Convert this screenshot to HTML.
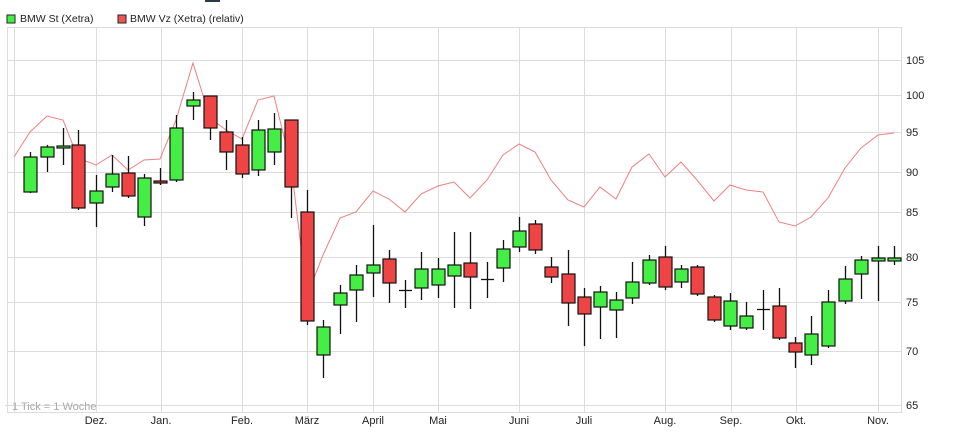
<!DOCTYPE html>
<html><head><meta charset="utf-8"><style>
html,body{margin:0;padding:0;background:#fff;width:971px;height:435px;overflow:hidden}
text{font-family:"Liberation Sans",sans-serif}
</style></head><body>
<svg id="s" width="971" height="435" xmlns="http://www.w3.org/2000/svg">
<rect x="205" y="0" width="15" height="2" fill="#2a3a4a"/>
<rect x="7" y="15" width="8" height="8" fill="#44ee44" stroke="#222" stroke-width="1"/>
<text x="20" y="22" font-size="10.5" fill="#222">BMW St (Xetra)</text>
<rect x="118" y="15" width="8" height="8" fill="#ee5555" stroke="#222" stroke-width="1"/>
<text x="130" y="22" font-size="10.5" fill="#222">BMW Vz (Xetra) (relativ)</text>
<g id="grid" stroke="#dcdcdc" stroke-width="1" fill="none"></g>
<g id="lbl" font-size="11" fill="#222"></g>
<text x="12" y="410" font-size="11" fill="#aaa">1 Tick = 1 Woche</text>
<polyline id="line" fill="none" stroke="#ee8080" stroke-width="1"/>
<g id="c"></g>
</svg>
<script>
const ns="http://www.w3.org/2000/svg";
function el(p,t,a){const e=document.createElementNS(ns,t);for(const k in a)e.setAttribute(k,a[k]);p.appendChild(e);return e;}
const g=document.getElementById('grid'),l=document.getElementById('lbl');
el(g,'rect',{x:7.5,y:27.5,width:894,height:385});
el(g,'line',{x1:5,y1:405.5,x2:902,y2:405.5});
[[105,60],[100,95],[95,132],[90,172],[85,212],[80,257],[75,302],[70,351]].forEach(([v,y])=>{el(g,'line',{x1:7,y1:y+.5,x2:902,y2:y+.5});const t=el(l,'text',{x:906,y:y+4});t.textContent=v;});
{const t=el(l,'text',{x:906,y:409});t.textContent=65;}
[[14,''],[96,'Dez.'],[161,'Jan.'],[242,'Feb.'],[307,'März'],[373,'April'],[438,'Mai'],[519,'Juni'],[584,'Juli'],[665,'Aug.'],[731,'Sep.'],[796,'Okt.'],[878,'Nov.']].forEach(([x,s])=>{el(g,'line',{x1:x+.5,y1:27,x2:x+.5,y2:412});if(s){const t=el(l,'text',{x:x,y:424,'text-anchor':'middle'});t.textContent=s;}});
const pts=[[14,157],[30,132],[47,116],[63,120],[78,158],[96,165],[112,155],[128,170],[144,160],[160,159],[176,120],[193,63],[210,118],[226,130],[242,139],[258,100],[274,96],[291,165],[307,296],[323,255],[340,218],[356,212],[373,191],[389,199],[405,212],[421,194],[438,186],[454,182],[470,198],[487,180],[503,155],[519,144],[535,152],[551,180],[568,200],[584,207],[600,187],[616,199],[632,167],[649,154],[665,177],[681,162],[697,180],[714,201],[730,185],[746,190],[763,192],[779,222],[795,226],[811,217],[828,198],[845,168],[861,148],[878,135],[894,133]];
document.getElementById('line').setAttribute('points',pts.map(p=>p.join(',')).join(' '));
const C=[[30,'g',157,192,152,193],[47,'g',147,157,145,172],[63,'g',146,148,128,165],[78,'r',145,208,130,210],[96,'g',191,203,175,227],[112,'g',174,187,155,192],[128,'r',173,196,156,198],[144,'g',178,217,174,226],[160,'r',181,183,168,185],[176,'g',128,180,115,182],[193,'g',100,106,92,120],[210,'r',96,128,96,140],[226,'r',132,152,120,170],[242,'r',145,174,137,178],[258,'g',130,170,120,176],[274,'g',129,152,113,165],[291,'r',120,187,120,218],[307,'r',212,321,190,325],[323,'g',327,355,320,378],[340,'g',293,305,285,334],[356,'g',275,290,265,322],[373,'g',265,273,225,297],[389,'r',259,283,250,303],[405,'d',290,290,280,308],[421,'g',269,288,252,300],[438,'g',269,285,258,298],[454,'g',265,276,232,308],[470,'r',263,277,232,309],[487,'d',279,279,262,298],[503,'g',249,268,240,282],[519,'g',231,247,217,252],[535,'r',224,250,220,254],[551,'r',267,277,257,283],[568,'r',274,303,250,326],[584,'r',297,314,288,346],[600,'g',292,307,286,339],[616,'g',300,310,292,338],[632,'g',282,298,262,304],[649,'g',260,283,255,285],[665,'r',257,287,246,290],[681,'g',269,282,265,288],[697,'r',267,294,265,296],[714,'r',297,320,295,322],[730,'g',301,326,293,330],[746,'g',316,328,302,330],[763,'d',309,309,290,330],[779,'r',306,338,288,340],[795,'r',343,352,337,368],[811,'g',334,355,316,365],[828,'g',302,346,290,348],[845,'g',279,301,266,304],[861,'g',260,274,256,299],[878,'g',258,261,246,301],[894,'g',258,261,246,265]];
const c=document.getElementById('c');
C.forEach(([x,t,a,b,h,lo])=>{el(c,'line',{x1:x+.5,y1:h,x2:x+.5,y2:lo,stroke:'#111','stroke-width':1.3});
if(t==='d'){el(c,'line',{x1:x-6,y1:a+.5,x2:x+7,y2:a+.5,stroke:'#111','stroke-width':1.3});}
else el(c,'rect',{x:x-6,y:a,width:13,height:Math.max(b-a,2),fill:t==='g'?'#44ee44':'#ee4444',stroke:'#111','stroke-width':1.2});});
</script>
</body></html>
